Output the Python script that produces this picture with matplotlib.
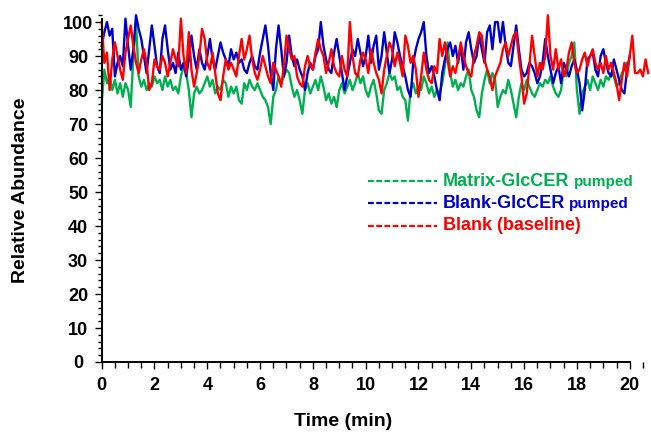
import numpy as np
import matplotlib.pyplot as plt
from matplotlib.lines import Line2D
from matplotlib.ticker import MultipleLocator

plt.rcParams['font.family'] = ['Liberation Sans', 'DejaVu Sans']

# sampling interval of the chromatograms (min)
dt = 0.1

matrix_pumped = [
    76, 86, 82, 84, 80, 83, 79, 82, 78, 82,
    80, 75, 90, 100, 84, 81, 83, 80, 82, 81,
    84, 82, 83, 80, 84, 81, 83, 80, 81, 79,
    84, 87, 85, 80, 72, 79, 81, 79, 80, 82,
    84, 81, 83, 79, 81, 80, 83, 82, 78, 81,
    79, 81, 77, 76, 82, 80, 83, 81, 80, 82,
    80, 78, 77, 75, 70, 78, 80, 84, 82, 84,
    86, 85, 81, 78, 80, 77, 73, 80, 82, 79,
    81, 83, 80, 84, 81, 77, 79, 76, 78, 75,
    80, 82, 79, 81, 83, 80, 82, 85, 82, 84,
    80, 78, 81, 83, 79, 74, 73, 80, 82, 85,
    83, 84, 80, 81, 78, 77, 71, 80, 82, 79,
    81, 80, 84, 82, 79, 81, 78, 80, 79, 82,
    87, 94, 85, 81, 83, 80, 82, 81, 84, 86,
    80, 78, 74, 72, 79, 83, 86, 82, 85, 83,
    75, 78, 80, 79, 83, 80, 76, 72, 78, 82,
    80, 83, 81, 79, 78, 80, 82, 81, 83, 82,
    84, 81, 79, 78, 80, 86, 84, 88, 90, 94,
    80, 73, 79, 81, 83, 80, 84, 82, 80, 83,
    81, 84, 83, 85, 84, 81, 82, 85, 86, 88,
]

blank_pumped = [
    93, 97, 100, 96, 98, 84, 88, 90, 87, 101,
    93, 86, 92, 102, 98, 95, 90, 85, 92, 99,
    93, 87, 85, 95, 99, 92, 86, 88, 85, 91,
    86, 88, 84, 89, 96, 90, 86, 92, 88, 86,
    90, 95, 89, 86, 90, 94, 91, 89, 87, 92,
    89, 91, 88, 89, 86, 85, 88, 90, 87, 86,
    91, 95, 99, 93, 85, 80, 92, 99, 92, 84,
    88, 96, 90, 87, 89, 86, 84, 80, 85, 88,
    86, 90, 92, 100, 93, 89, 86, 85, 91, 95,
    90, 85, 80, 84, 88, 92, 90, 95, 91, 87,
    90, 96, 88, 93, 96, 86, 90, 97, 91, 85,
    89, 97, 94, 90, 87, 84, 80, 78, 88, 92,
    95, 97, 100, 90, 85, 87, 84, 80, 77, 85,
    89, 92, 94, 90, 93, 88, 93, 86, 94, 97,
    92, 88, 90, 96, 92, 88, 97, 99, 92, 100,
    100, 94, 100, 93, 88, 87, 93, 99, 92, 86,
    84, 85, 88, 87, 85, 82, 84, 88, 95, 90,
    86, 82, 85, 87, 82, 88, 86, 84, 87, 89,
    86, 82, 74, 80, 89, 90, 91, 86, 84, 90,
    92, 88, 85, 84, 89, 86, 83, 80, 79, 86,
    90,
]

blank_baseline = [
    100, 88, 91, 80, 89, 94, 90, 86, 83, 91,
    95, 99, 93, 88, 85, 89, 92, 88, 80, 82,
    89, 87, 86, 90, 88, 84, 88, 92, 89, 87,
    101, 90, 85, 97, 86, 81, 85, 90, 98, 95,
    88, 86, 91, 85, 79, 77, 84, 89, 86, 88,
    86, 84, 90, 95, 89, 92, 96, 89, 85, 83,
    86, 90, 87, 84, 82, 88, 86, 84, 81, 87,
    96, 92, 89, 90, 84, 82, 81, 87, 90, 87,
    86, 91, 95, 92, 90, 85, 88, 92, 87, 85,
    84, 90, 86, 84, 100, 90, 85, 84, 89, 91,
    89, 85, 92, 88, 85, 83, 79, 86, 90, 94,
    92, 87, 91, 88, 84, 96, 93, 88, 90, 86,
    78, 84, 91, 86, 83, 82, 87, 85, 95, 90,
    94, 89, 84, 87, 85, 89, 94, 90, 87, 85,
    84, 90, 93, 97, 96, 89, 86, 84, 80, 84,
    86, 88, 92, 94, 90, 93, 96, 97, 90, 84,
    76, 79, 87, 96, 90, 84, 88, 86, 90, 102,
    90, 86, 92, 86, 89, 84, 86, 91, 94, 88,
    85, 86, 89, 91, 87, 90, 92, 88, 86, 88,
    85, 90, 86, 88, 85, 82, 77, 83, 88, 84,
    90, 96, 85, 85, 86, 84, 89, 85,
]

series = [
    ('Matrix-GlcCER', 'pumped', matrix_pumped, '#00B050'),
    ('Blank-GlcCER', 'pumped', blank_pumped, '#0000CC'),
    ('Blank (baseline)', '', blank_baseline, '#FF0000'),
]

fig = plt.figure(figsize=(6.51, 4.34), dpi=100)
ax = fig.add_axes([0.1562, 0.1659, 0.8415, 0.799])

for name, tail, vals, col in series:
    t = np.arange(len(vals)) * dt
    ax.plot(t, vals, color=col, lw=1.7, clip_on=False)

ax.set_xlim(0, 20.75)
ax.set_ylim(0, 102)
for s in ['top', 'right']:
    ax.spines[s].set_visible(False)
ax.spines['bottom'].set_bounds(0, 20)
ax.spines['left'].set_bounds(0, 101)
for s in ['left', 'bottom']:
    ax.spines[s].set_linewidth(1.4)

ax.set_xticks(np.arange(0, 21, 2))
ax.xaxis.set_minor_locator(MultipleLocator(0.5))
ax.set_yticks(np.arange(0, 101, 10))
ax.yaxis.set_minor_locator(MultipleLocator(2))
ax.tick_params(axis='both', which='both', direction='out', width=1.0, colors='black')
ax.tick_params(axis='x', which='major', length=5, pad=6)
ax.tick_params(axis='x', which='minor', length=4)
ax.tick_params(axis='y', which='major', length=5, pad=12)
ax.tick_params(axis='y', which='minor', length=3)
for lab in ax.get_xticklabels() + ax.get_yticklabels():
    lab.set_fontsize(13)
    lab.set_fontweight('bold')
for lab in ax.get_yticklabels():
    lab.set_horizontalalignment('center')

fig.text(343 / 651, 1 - 421 / 434, 'Time (min)', ha='center', va='center',
         fontsize=14, fontweight='bold')
fig.text(21 / 651, 1 - 190 / 434, 'Relative Abundance', ha='center', va='center',
         rotation=90, fontsize=14, fontweight='bold')

# legend: dashed stub plus coloured bold label
renderer = fig.canvas.get_renderer()
rows_y = [181, 203, 226]
for (name, tail, vals, col), py in zip(series, rows_y):
    yf = 1 - py / 434
    fig.add_artist(Line2D([368 / 651, 437 / 651], [yf, yf], color=col, lw=1.6,
                          linestyle=(0, (2.6, 1.1)), transform=fig.transFigure))
    t1 = fig.text(443 / 651, yf, name, color=col, fontsize=13,
                  fontweight='bold', ha='left', va='center')
    if tail:
        bb = t1.get_window_extent(renderer)
        fig.text((bb.x1 + 4) / 651, yf - 0.002, tail, color=col, fontsize=11,
                 fontweight='bold', ha='left', va='center')

fig.savefig('out.png', dpi=100)
